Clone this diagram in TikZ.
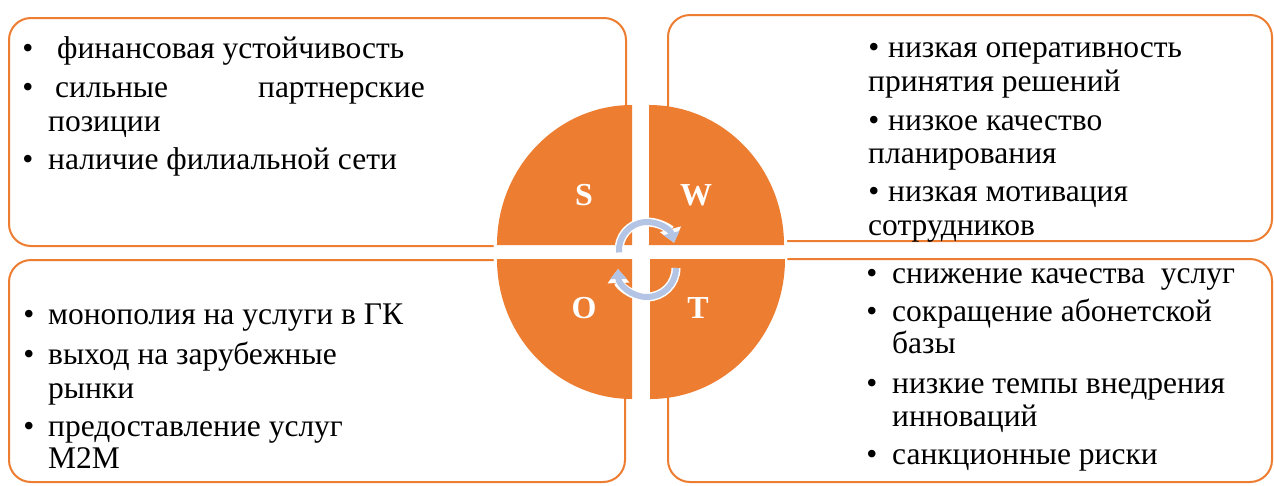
\documentclass[tikz,border=0pt]{standalone}
\usepackage{fontspec}
\setmainfont{Liberation Serif}
\usetikzlibrary{arrows.meta}
\definecolor{org}{RGB}{237,125,49}
\definecolor{arr}{RGB}{180,196,228}
\begin{document}
\begin{tikzpicture}[x=1pt,y=-1pt,
 box/.style={draw=org, line width=2pt, rounded corners=22pt, fill=white},
 ln/.style={anchor=base west, inner sep=0pt, font=\fontsize{31.5}{34}\selectfont},
 bl/.style={anchor=base, inner sep=0pt, font=\fontsize{31.5}{34}\selectfont},
 quad/.style={fill=org, draw=none},
 letter/.style={text=white, inner sep=0pt, font=\fontsize{32}{32}\selectfont\bfseries},
 arrwhite/.style={draw=white, line width=9pt, -{Triangle[width=21pt,length=14pt]}},
 arrblue/.style={draw=arr, line width=6pt, -{Triangle[width=16pt,length=10pt]}}
]
\useasboundingbox (0,0) rectangle (1274,485);
% boxes
\draw[box] (9,18) rectangle (626,246);
\draw[box] (668,15) rectangle (1272,241);
\draw[box] (9,260) rectangle (625,482);
\draw[box] (668,259) rectangle (1272,482);
% circle backing
\fill[white] (640.5,252) circle (147);
% quadrants
\fill[quad] (632,245) -- (497,245) arc[start angle=180, end angle=270, x radius=135, y radius=140] -- cycle;
\fill[quad] (649,245) -- (649,105) arc[start angle=270, end angle=360, x radius=135, y radius=140] -- cycle;
\fill[quad] (650,259) -- (785,259) arc[start angle=0, end angle=90, x radius=135, y radius=140] -- cycle;
\fill[quad] (632,259) -- (632,399) arc[start angle=90, end angle=180, x radius=135, y radius=140] -- cycle;
\node[letter] (S) at (584,195) {S};
\node[letter] (W) at (696,195) {W};
\node[letter] (O) at (584,308) {O};
\node[letter] (T) at (698,308) {T};
% cycle arrows
\coordinate (c1) at (647,250);
\coordinate (c2) at (647,268);
\draw[arrwhite] (c1) ++(175:28) arc[start angle=175, end angle=345, radius=28];
\draw[arrblue] (c1) ++(175:28) arc[start angle=175, end angle=345, radius=28];
\draw[arrwhite] (c2) ++(0:29) arc[start angle=0, end angle=178, radius=29];
\draw[arrblue] (c2) ++(0:29) arc[start angle=0, end angle=178, radius=29];
% S text
\node[bl] (s1b) at (28,58) {•};
\node[ln] (s1) at (57,58) {финансовая устойчивость};
\node[bl] (s2b) at (28,97) {•};
\node[ln] (s2a) at (55,97) {сильные};
\node[ln, anchor=base east] (s2c) at (425,97) {партнерские};
\node[ln] (s2d) at (48,131) {позиции};
\node[bl] (s3b) at (28,169) {•};
\node[ln] (s3) at (48,169) {наличие филиальной сети};
% W text
\node[bl] (w1b) at (874,57) {•};
\node[ln] (w1) at (888,57) {низкая оперативность};
\node[ln] (w1c) at (868,91) {принятия решений};
\node[bl] (w2b) at (874,130) {•};
\node[ln] (w2) at (888,130) {низкое качество};
\node[ln] (w2c) at (868,163) {планирования};
\node[bl] (w3b) at (874,201) {•};
\node[ln] (w3) at (888,201) {низкая мотивация};
\node[ln] (w3c) at (868,235) {сотрудников};
% O text
\node[bl] (o1b) at (29,324) {•};
\node[ln] (o1) at (48,324) {монополия на услуги в ГК};
\node[bl] (o2b) at (29,364) {•};
\node[ln] (o2) at (48,364) {выход на зарубежные};
\node[ln] (o2c) at (48,398) {рынки};
\node[bl] (o3b) at (29,436) {•};
\node[ln] (o3) at (48,436) {предоставление услуг};
\node[ln] (o3c) at (48,468) {M2M};
% T text
\node[bl] (t1b) at (872,283) {•};
\node[ln] (t1) at (892,283) {снижение качества\ \ услуг};
\node[bl] (t2b) at (872,321) {•};
\node[ln] (t2) at (892,321) {сокращение абонетской};
\node[ln] (t2c) at (892,353) {базы};
\node[bl] (t3b) at (872,393) {•};
\node[ln] (t3) at (892,393) {низкие темпы внедрения};
\node[ln] (t3c) at (892,426) {инноваций};
\node[bl] (t4b) at (872,464) {•};
\node[ln] (t4) at (892,464) {санкционные риски};
\end{tikzpicture}
\end{document}
